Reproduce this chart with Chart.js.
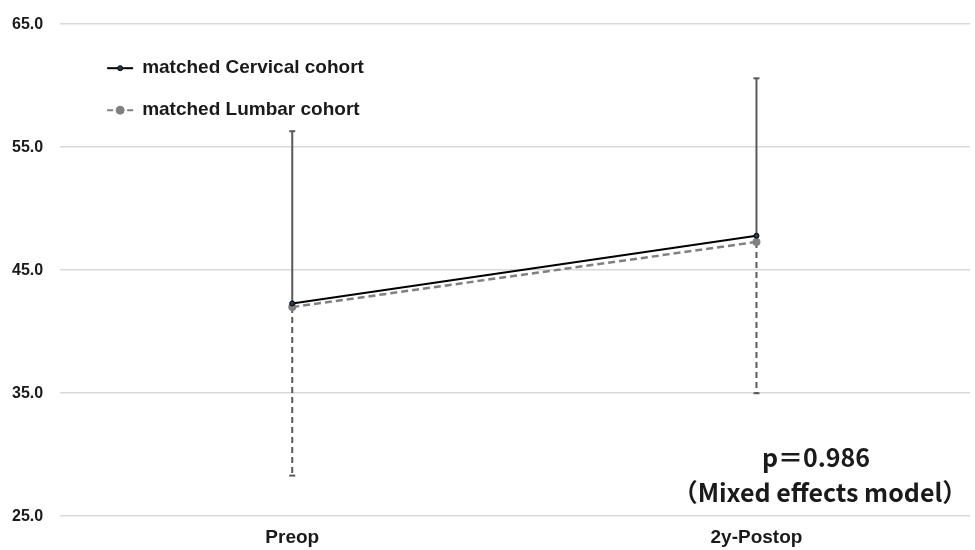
<!DOCTYPE html>
<html>
<head>
<meta charset="utf-8">
<script src="https://cdn.jsdelivr.net/npm/chart.js@4.4.0/dist/chart.umd.min.js"></script>
<style>
  html, body { margin: 0; padding: 0; background: #fff; }
  #wrap { width: 975px; height: 550px; }
</style>
</head>
<body>
<div id="wrap"><canvas id="chart"></canvas></div>
<script>
// data
const categories = ['Preop', '2y-Postop'];
const cervicalMean = [42.3, 47.8];
const cervicalUpper = [56.3, 60.6];   // mean + SD (drawn upwards)
const lumbarMean = [42.0, 47.3];
const lumbarLower = [28.3, 35.0];     // mean - SD (drawn downwards)
const yTicks = [25, 35, 45, 55, 65];

const toPoints = arr => arr.map((y, i) => ({ x: i, y }));
const FONT = '"Liberation Sans", Arial, sans-serif';

// error bars, drawn behind the lines
const errorBars = {
  id: 'errorBars',
  beforeDatasetsDraw(chart) {
    const { ctx, scales: { x, y } } = chart;
    const draw = (means, ends, dash) => {
      ctx.save();
      ctx.strokeStyle = '#595959';
      ctx.lineWidth = 2;
      means.forEach((m, i) => {
        const px = x.getPixelForValue(i);
        const py = y.getPixelForValue(ends[i]);
        ctx.setLineDash(dash);
        ctx.beginPath();
        ctx.moveTo(px, y.getPixelForValue(m));
        ctx.lineTo(px, py);
        ctx.stroke();
        ctx.setLineDash([]);
        ctx.beginPath();
        ctx.moveTo(px - 3, py);
        ctx.lineTo(px + 3, py);
        ctx.stroke();
      });
      ctx.restore();
    };
    draw(cervicalMean, cervicalUpper, []);
    draw(lumbarMean, lumbarLower, [6, 4]);
  }
};

// legend in the top-left corner of the plot
const cornerLegend = {
  id: 'cornerLegend',
  afterDraw(chart) {
    const { ctx, chartArea } = chart;
    const x0 = chartArea.left + 47;
    const rows = [
      { y: chartArea.top + 44, label: 'matched Cervical cohort', color: '#000', dash: [], dot: '#1f3864', r: 2.5 },
      { y: chartArea.top + 86, label: 'matched Lumbar cohort', color: '#808080', dash: [6, 4], dot: '#808080', r: 4 }
    ];
    ctx.save();
    rows.forEach(row => {
      ctx.strokeStyle = row.color;
      ctx.lineWidth = 2;
      ctx.setLineDash(row.dash);
      ctx.beginPath();
      ctx.moveTo(x0, row.y);
      ctx.lineTo(x0 + 26, row.y);
      ctx.stroke();
      ctx.setLineDash([]);
      ctx.fillStyle = row.dot;
      ctx.lineWidth = 1;
      ctx.beginPath();
      ctx.arc(x0 + 13, row.y, row.r, 0, Math.PI * 2);
      ctx.fill();
      ctx.stroke();
      ctx.fillStyle = '#1a1a1a';
      ctx.font = 'bold 19px ' + FONT;
      ctx.textBaseline = 'middle';
      ctx.fillText(row.label, x0 + 35, row.y);
    });
    ctx.restore();
  }
};

// statistics note in the lower right
const note = {
  id: 'note',
  afterDraw(chart) {
    const { ctx } = chart;
    ctx.save();
    ctx.fillStyle = '#1a1a1a';
    ctx.textAlign = 'center';
    ctx.textBaseline = 'middle';
    ctx.font = 'bold 25px "Noto Sans CJK JP", sans-serif';
    ctx.fillText('p＝0.986', 816, 457);
    ctx.fillText('（Mixed effects model）', 820, 492);
    ctx.restore();
  }
};

new Chart(document.getElementById('chart'), {
  type: 'line',
  data: {
    datasets: [
      {
        label: 'matched Cervical cohort',
        data: toPoints(cervicalMean),
        borderColor: '#000',
        borderWidth: 2,
        backgroundColor: '#1f3864',
        pointBorderColor: '#000',
        pointRadius: 2.5,
        pointBorderWidth: 1
      },
      {
        label: 'matched Lumbar cohort',
        data: toPoints(lumbarMean),
        borderColor: '#808080',
        borderWidth: 2.5,
        borderDash: [7, 4],
        backgroundColor: '#808080',
        pointBorderColor: '#808080',
        pointRadius: 4,
        pointBorderWidth: 0
      }
    ]
  },
  options: {
    responsive: true,
    maintainAspectRatio: false,
    animation: false,
    layout: { padding: { top: 0, right: -10, bottom: -9, left: -5 } },
    plugins: {
      legend: { display: false },
      tooltip: { enabled: false }
    },
    scales: {
      x: {
        type: 'linear',
        min: -0.5,
        max: 1.46,
        afterBuildTicks: axis => { axis.ticks = categories.map((c, i) => ({ value: i })); },
        ticks: {
          callback: v => categories[v],
          color: '#1a1a1a',
          font: { family: FONT, size: 19, weight: 'bold' },
          padding: 10,
          maxRotation: 0
        },
        grid: { display: false, drawTicks: false },
        border: { display: false }
      },
      y: {
        min: 25,
        max: 65,
        afterBuildTicks: axis => { axis.ticks = yTicks.map(v => ({ value: v })); },
        ticks: {
          callback: v => v.toFixed(1),
          color: '#1a1a1a',
          font: { family: FONT, size: 16, weight: 'bold', lineHeight: 0.9 },
          padding: 17
        },
        grid: { color: '#d9d9d9', lineWidth: 1.5, drawTicks: false },
        border: { display: false }
      }
    }
  },
  plugins: [errorBars, cornerLegend, note]
});
</script>
</body>
</html>
